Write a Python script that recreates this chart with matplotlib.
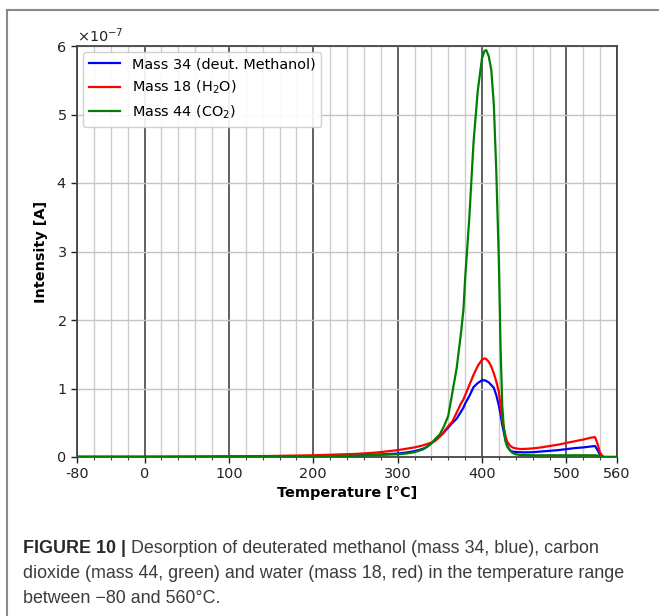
import matplotlib
matplotlib.use("Agg")
import matplotlib.pyplot as plt
from matplotlib import font_manager
from matplotlib.ticker import ScalarFormatter, FixedLocator
from matplotlib.lines import Line2D

plt.rcParams["font.family"] = ["DejaVu Sans"]

# ---------------- data (intensity in units of 1e-7 A) ----------------
temperature = [-80, -40, 0, 50, 100, 150, 200, 225, 250, 275, 300, 310, 320, 330, 335,
               340, 345, 350, 355, 360, 365, 370, 375, 378, 380, 385, 390, 395, 400, 403,
               405, 408, 411, 414, 417, 420, 422, 424, 426, 428, 430, 433, 436, 440, 445,
               450, 460, 470, 480, 490, 500, 510, 520, 530, 534, 537, 540, 543, 545, 560]

mass34 = [0.002, 0.002, 0.002, 0.003, 0.005, 0.008, 0.012, 0.018, 0.025, 0.035, 0.05, 0.065, 0.085, 0.12, 0.15,
          0.2, 0.25, 0.3, 0.36, 0.43, 0.5, 0.56, 0.66, 0.72, 0.78, 0.89, 1.02, 1.08, 1.12, 1.12,
          1.11, 1.09, 1.05, 1.01, 0.9, 0.75, 0.62, 0.47, 0.35, 0.24, 0.16, 0.1, 0.08, 0.072, 0.07,
          0.068, 0.07, 0.08, 0.09, 0.1, 0.115, 0.13, 0.14, 0.155, 0.16, 0.1, 0.03, 0.005, 0.0, 0.0]

mass18 = [0.005, 0.005, 0.005, 0.006, 0.01, 0.015, 0.025, 0.035, 0.045, 0.065, 0.1, 0.12, 0.14, 0.17, 0.19,
          0.21, 0.24, 0.3, 0.37, 0.45, 0.52, 0.65, 0.78, 0.84, 0.9, 1.05, 1.2, 1.33, 1.42, 1.44,
          1.43, 1.39, 1.32, 1.22, 1.1, 0.95, 0.75, 0.55, 0.42, 0.3, 0.22, 0.17, 0.14, 0.125, 0.117,
          0.118, 0.125, 0.14, 0.16, 0.18, 0.205, 0.23, 0.255, 0.285, 0.29, 0.19, 0.06, 0.01, 0.0, 0.0]

mass44 = [0.0, 0.0, 0.0, 0.001, 0.003, 0.006, 0.01, 0.015, 0.02, 0.03, 0.04, 0.05, 0.07, 0.11, 0.15,
          0.2, 0.27, 0.33, 0.45, 0.6, 0.95, 1.3, 1.8, 2.15, 2.6, 3.5, 4.6, 5.35, 5.82, 5.93,
          5.94, 5.85, 5.65, 5.15, 4.15, 2.85, 1.6, 0.75, 0.4, 0.22, 0.15, 0.1, 0.06, 0.04, 0.03,
          0.03, 0.025, 0.025, 0.025, 0.025, 0.025, 0.025, 0.025, 0.025, 0.025, 0.02, 0.01, 0.0, 0.0, 0.0]

labels = ["Mass 34 (deut. Methanol)", r"Mass 18 (H$_2$O)", r"Mass 44 (CO$_2$)"]
colors = ["#0000ff", "#ff0000", "#008000"]

x_major = [-80, 0, 100, 200, 300, 400, 500, 560]
x_major_labels = ["-80", "0", "100", "200", "300", "400", "500", "560"]
x_minor = [-60, -40, -20, 20, 40, 60, 80, 120, 140, 160, 180, 220, 240, 260, 280,
           320, 340, 360, 380, 420, 440, 460, 480, 520, 540]
y_ticks = [0, 1, 2, 3, 4, 5, 6]
scale = 1e-7

caption_bold = "FIGURE 10 |"
caption_line1 = " Desorption of deuterated methanol (mass 34, blue), carbon"
caption_line2 = "dioxide (mass 44, green) and water (mass 18, red) in the temperature range"
caption_line3 = "between \u221280 and 560\u00b0C."

# ---------------- figure ----------------
W, H = 659, 616
fig = plt.figure(figsize=(W / 100, H / 100), dpi=100)
fig.patch.set_facecolor("white")

ax = fig.add_axes([77 / W, 1 - 457 / H, (617 - 77) / W, (457 - 46) / H])

for vals, lab, c in zip([mass34, mass18, mass44], labels, colors):
    ax.plot(temperature, [v * scale for v in vals], color=c, lw=1.6, label=lab, zorder=3)

ax.set_xlim(-80, 560)
ax.set_ylim(0, 6 * scale)
ax.xaxis.set_major_locator(FixedLocator(x_major))
ax.set_xticklabels(x_major_labels)
ax.xaxis.set_minor_locator(FixedLocator(x_minor))
ax.set_yticks([t * scale for t in y_ticks])
fmt = ScalarFormatter(useMathText=True)
fmt.set_powerlimits((0, 0))
ax.yaxis.set_major_formatter(fmt)

ax.grid(True, which="minor", axis="x", color="#cccccc", lw=1.0, zorder=0)
ax.grid(True, which="major", axis="x", color="#444444", lw=1.2, zorder=1)
ax.grid(True, which="major", axis="y", color="#c4c4c4", lw=1.0, zorder=0)
ax.set_axisbelow(True)

FS = 10.4
for sp in ax.spines.values():
    sp.set_color("#444444")
    sp.set_linewidth(1.3)
ax.tick_params(axis="both", which="major", labelsize=FS, colors="#222222", length=4, width=1.0)
ax.tick_params(axis="x", which="minor", length=2.5, width=0.8, colors="#444444")

ax.set_xlabel("Temperature [\u00b0C]", fontsize=FS, fontweight="bold", labelpad=3)
ax.set_ylabel("Intensity [A]", fontsize=FS, fontweight="bold", labelpad=6)
ax.yaxis.get_offset_text().set_fontsize(FS)

ax.legend(loc="upper left", fontsize=FS, framealpha=0.9, edgecolor="#cccccc",
          borderaxespad=0.4, handlelength=2.2)

# border frame (cut off at right and bottom)
fig.add_artist(Line2D([7 / W, 7 / W], [0, 1 - 10 / H], color="#8a8a8a", lw=1.5))
fig.add_artist(Line2D([7 / W, 1], [1 - 10 / H, 1 - 10 / H], color="#8a8a8a", lw=1.5))

# caption
names = {f.name for f in font_manager.fontManager.ttflist}
cap_font = "DejaVu Sans"
for cand in ["Liberation Sans", "Arimo", "Roboto"]:
    if cand in names:
        cap_font = cand
        break
cap_color = "#3c3c3c"
x0 = 23 / W
renderer = fig.canvas.get_renderer()
cap_size = 12.7
probe = fig.text(x0, 0.5, caption_line2, fontsize=cap_size, family=cap_font)
w = probe.get_window_extent(renderer=renderer).width
probe.remove()
cap_size = cap_size * 600.0 / w

t_bold = fig.text(x0, 1 - 553 / H, caption_bold, fontsize=cap_size, fontweight="bold",
                  family=cap_font, color="#2a2a2a", va="baseline", ha="left")
bb = t_bold.get_window_extent(renderer=renderer)
fig.text(bb.x1 / W, 1 - 553 / H, caption_line1, fontsize=cap_size, family=cap_font,
         color=cap_color, va="baseline", ha="left")
fig.text(x0, 1 - 578 / H, caption_line2, fontsize=cap_size, family=cap_font,
         color=cap_color, va="baseline", ha="left")
fig.text(x0, 1 - 603 / H, caption_line3, fontsize=cap_size, family=cap_font,
         color=cap_color, va="baseline", ha="left")

fig.savefig("out.png", dpi=100, facecolor="white")
